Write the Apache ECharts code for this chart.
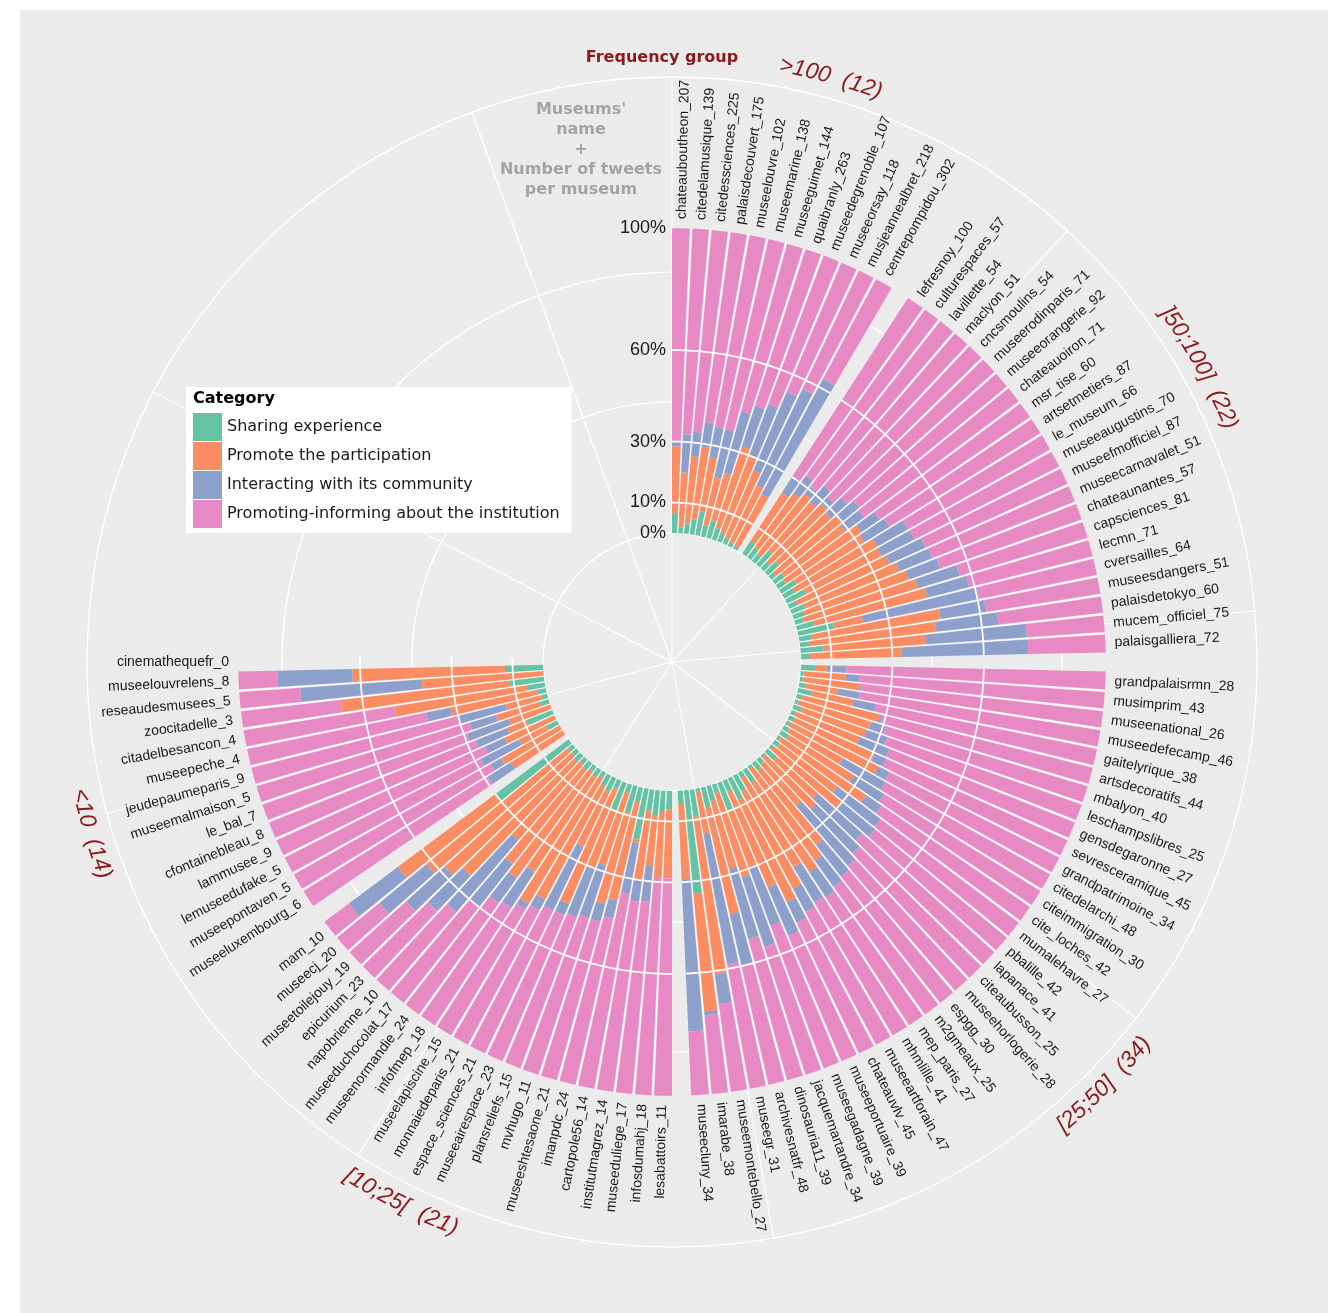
<!DOCTYPE html>
<html>
<head>
<meta charset="utf-8">
<script src="https://cdn.jsdelivr.net/npm/echarts/dist/echarts.min.js"></script>
<style>
html,body{margin:0;padding:0;background:#ffffff;}
#panel{position:absolute;left:20px;top:10px;width:1308px;height:1303px;background:#ebebeb;}
#chart{position:absolute;left:0;top:0;width:1334px;height:1313px;}
</style>
</head>
<body>
<div id="panel"></div>
<div id="chart"></div>
<script>
// ---------------- DATA ----------------
const groupNames = ['>100  (12)', ']50;100]  (22)', '[25;50]  (34)', '[10;25[  (21)', '<10  (14)'];
const groupSizes = [12, 22, 34, 21, 14];
const emptySlots = 35;

const museums = [
  'chateauboutheon_207','citedelamusique_139','citedessciences_225','palaisdecouvert_175','museelouvre_102','museemarine_138','museeguimet_144','quaibranly_263','museedegrenoble_107','museeorsay_118','musjeannealbret_218','centrepompidou_302',
  'lefresnoy_100','culturespaces_57','lavillette_54','maclyon_51','cncsmoulins_54','museerodinparis_71','museeorangerie_92','chateauoiron_71','msr_tise_60','artsetmetiers_87','le_museum_66','museeaugustins_70','museefmofficiel_87','museecarnavalet_51','chateaunantes_57','capsciences_81','lecmn_71','cversailles_64','museesdangers_51','palaisdetokyo_60','mucem_officiel_75','palaisgalliera_72',
  'grandpalaisrmn_28','musimprim_43','museenational_26','museedefecamp_46','gaitelyrique_38','artsdecoratifs_44','mbalyon_40','leschampslibres_25','gensdegaronne_27','sevresceramique_45','grandpatrimoine_34','citedelarchi_48','citeimmigration_30','cite_loches_42','mumalehavre_27','pbalille_42','lapanace_41','citeaubusson_25','museehorlogerie_28','espgg_30','m2gmeaux_25','mep_paris_27','mhmlille_41','museeartforain_47','chateauvlv_45','museeportuaire_39','museegadagne_39','jacquemartandre_34','dinosauria11_39','archivesnatfr_48','museegr_31','museemontebello_27','imarabe_38','museecluny_34',
  'lesabattoirs_11','infosdumahj_18','museeduliege_17','institutmagrez_14','cartopole56_14','imanpdc_24','museeshtesaone_21','mvhugo_11','plansreliefs_15','museeairespace_23','espace_sciences_21','monnaiedeparis_21','museelapiscine_15','infofmep_18','museenormandie_24','museeduchocolat_17','napobrienne_10','epicurium_23','museetoilejouy_19','museecj_20','mam_10',
  'museeluxembourg_6','museepontaven_5','lemuseedufake_5','lammusee_9','cfontainebleau_8','le_bal_7','museemalmaison_5','jeudepaumeparis_9','museepeche_4','citadelbesancon_4','zoocitadelle_3','reseaudesmusees_5','museelouvrelens_8','cinemathequefr_0'
];

const sharing = [
  6.5, 2, 3.5, 5, 8, 4, 6, 4, 3, 2, 1.5, 1,
  5, 4, 3, 6, 3, 5, 2, 4, 3, 6, 4, 7, 3, 5, 4, 3, 6, 12, 4, 3, 7.5, 3,
  4.6, 1, 1, 2, 4.7, 2, 1, 3, 1.5, 2, 1, 2, 3, 1, 2, 1, 4, 1, 2, 3, 1, 5, 2, 6, 8, 4, 10, 3, 5, 7, 1, 9, 34, 4,
  6, 7, 8.5, 7, 17, 5, 9, 3, 10, 3, 5, 4, 2, 3, 2, 3, 2, 3, 2, 2, 30,
  0, 0, 4, 0, 9, 0, 3, 2, 3, 6, 11.3, 0, 12.5, 0
];
const promote = [
  22, 18, 22, 24, 18, 16, 16, 28, 27, 24, 20.5, 19,
  19, 22, 25, 21, 26, 23, 28, 25, 30, 26, 31, 27.7, 33, 33, 36, 39, 38, 9.8, 43, 42, 33.5, 30,
  3.9, 14, 19, 10.8, 13.8, 26, 25, 22.4, 22.5, 28.7, 32.6, 20, 25, 34, 23.6, 29, 18, 23, 18, 31, 37, 35, 34, 36, 37, 34, 20, 29, 23, 35.6, 14, 52, 38.8, 25,
  22.6, 21.7, 16.5, 23, 1, 33, 31, 25, 20, 41, 20, 42, 48, 37, 43, 39, 33, 51, 56, 60, 40,
  20, 22, 10, 18, 7, 14.4, 15, 12, 29, 44, 55.7, 40, 50.1, 0
];
const interacting = [
  1.5, 12.5, 8, 8, 10, 16, 21, 14, 18, 28, 35, 43,
  6, 7, 3, 7, 3, 7, 7.3, 7.6, 7.3, 9.7, 11.5, 12.1, 12.9, 11.6, 11, 14.2, 14.2, 38.8, 15.2, 20.5, 33.4, 41.6,
  6.5, 4.5, 0.5, 7.2, 7.5, 1, 5, 7.1, 10.5, 4.1, 4.1, 16, 11.7, 6, 17.7, 14, 19.7, 20, 26, 13.3, 10.6, 9.9, 13.4, 8.6, 7.4, 17.3, 20, 24, 24, 17.3, 43.4, 10, 1.2, 50,
  0, 0, 11.7, 7, 17, 6, 6, 18, 17, 4, 23, 4, 2, 14, 10, 18, 31, 16, 17, 20, 20,
  9, 4, 14, 7, 11, 14.6, 9, 16, 8, 0, 0, 40, 24.6, 0
];
const promoting = [
  70, 67.5, 66.5, 63, 64, 64, 57, 54, 52, 46, 43, 37,
  70, 67, 69, 66, 68, 65, 62.7, 63.4, 59.7, 58.3, 53.5, 53.2, 51.1, 50.4, 49, 43.8, 41.8, 39.4, 37.8, 34.5, 25.6, 25.4,
  85, 80.5, 79.5, 80, 74, 71, 69, 67.5, 65.5, 65.2, 62.3, 62, 60.3, 59, 56.7, 56, 58.3, 56, 54, 52.7, 51.4, 50.1, 50.6, 49.4, 47.6, 44.7, 50, 44, 48, 40.1, 41.6, 29, 26, 21,
  71.4, 71.3, 63.3, 63, 65, 56, 54, 54, 53, 52, 52, 50, 48, 46, 45, 40, 34, 30, 25, 18, 10,
  71, 74, 72, 75, 73, 71, 73, 70, 60, 50, 33, 20, 12.8, 0
];

const categoryNames = ['Sharing experience', 'Promote the participation', 'Interacting with its community', 'Promoting-informing about the institution'];
const categoryColors = ['#66C2A5', '#FC8D62', '#8DA0CB', '#E78AC3'];

const radialTicks = [0, 10, 30, 60, 100];
const overlayArcValues = [10, 30, 60];
const backgroundCircles = [0, 43, 85.6, 149.6];
const spokeDegrees = [0, 42.5, 85, 127.5, 170, 212.5, 255, 297.5, 340];

// ---------------- LAYOUT HELPERS ----------------
const RADIUS_MAX = 149.6;
const LABEL_R = 103;
const GROUP_LABEL_R = 156.6;
const GROUP_FONT = 'italic 23px "Liberation Sans", Arial, sans-serif';

const slots = [];          // museum index or -1
const groupRanges = [];    // [firstSlot, lastSlot]
let mi = 0;
groupSizes.forEach((n, g) => {
  const first = slots.length;
  for (let k = 0; k < n; k++) slots.push(mi++);
  groupRanges.push([first, slots.length - 1]);
  if (g < groupSizes.length - 1) slots.push(-1);
});
for (let e = 0; e < emptySlots; e++) slots.push(-1);

const slotNames = slots.map((s, i) => s >= 0 ? museums[s] : ('_empty' + i));
const seriesArrays = [sharing, promote, interacting, promoting];
const total = museums.map((_, i) => sharing[i] + promote[i] + interacting[i] + promoting[i]);

const measureCtx = document.createElement('canvas').getContext('2d');
function textWidth(t, font) { measureCtx.font = font; return measureCtx.measureText(t).width; }

function polarOf(api, cs, v, idx) {
  const p = api.coord([v, idx]);
  const dx = p[0] - cs.cx, dy = cs.cy - p[1];
  return [Math.sqrt(dx * dx + dy * dy), Math.atan2(dy, dx)];
}
function slotPoint(api, cs, v, pos) {
  const a = polarOf(api, cs, v, 0);
  const b = polarOf(api, cs, v, 1);
  let step = b[1] - a[1];
  if (step > Math.PI) step -= 2 * Math.PI;
  if (step < -Math.PI) step += 2 * Math.PI;
  const ang = a[1] + step * (pos - 0.5);
  return [cs.cx + a[0] * Math.cos(ang), cs.cy - a[0] * Math.sin(ang), a[0], ang];
}
function txtStyle(text, align, valign, font, fill) {
  return { text: text, align: align, verticalAlign: valign, textAlign: align, textVerticalAlign: valign, font: font, fill: fill };
}

// ---------------- SERIES ----------------
const series = [];

// background grid circles
series.push({
  type: 'custom', coordinateSystem: 'polar', silent: true, z: 1,
  encode: { radius: 0, angle: 1 },
  data: backgroundCircles.map(v => [v, 0]),
  renderItem: (params, api) => {
    const cs = params.coordSys;
    const r = polarOf(api, cs, api.value(0), 0)[0];
    return { type: 'circle', shape: { cx: cs.cx, cy: cs.cy, r: r }, style: { fill: 'none', stroke: '#ffffff', lineWidth: 1.3 } };
  }
});
// background spokes
series.push({
  type: 'custom', coordinateSystem: 'polar', silent: true, z: 1,
  encode: { radius: 0, angle: 1 },
  data: spokeDegrees.map(d => [RADIUS_MAX, 0, d]),
  renderItem: (params, api) => {
    const cs = params.coordSys;
    const v = api.value(0);
    const a = polarOf(api, cs, v, 0), b = polarOf(api, cs, v, 1);
    const slotRad = Math.abs(a[1] - b[1]);
    const pos = (api.value(2) * Math.PI / 180) / slotRad;
    const p = slotPoint(api, cs, v, pos);
    return { type: 'line', shape: { x1: cs.cx, y1: cs.cy, x2: p[0], y2: p[1] }, style: { stroke: '#ffffff', lineWidth: 1.1 } };
  }
});

// stacked bars
seriesArrays.forEach((arr, c) => {
  series.push({
    type: 'bar', coordinateSystem: 'polar', name: categoryNames[c], stack: 'total',
    barCategoryGap: '0%', silent: true, z: 2,
    itemStyle: { color: categoryColors[c] },
    data: slots.map(s => s >= 0 ? arr[s] : '-')
  });
});

// white separators between adjacent bars
const sepData = [];
for (let i = 1; i < slots.length; i++) {
  if (slots[i - 1] >= 0 && slots[i] >= 0 && total[slots[i - 1]] > 0 && total[slots[i]] > 0) sepData.push([100, i]);
}
series.push({
  type: 'custom', coordinateSystem: 'polar', silent: true, z: 3,
  encode: { radius: 0, angle: 1 },
  data: sepData,
  renderItem: (params, api) => {
    const cs = params.coordSys;
    const i = api.value(1), w = 0.055;
    const p1 = slotPoint(api, cs, 0, i - w), p2 = slotPoint(api, cs, 0, i + w);
    const p3 = slotPoint(api, cs, api.value(0), i + w), p4 = slotPoint(api, cs, api.value(0), i - w);
    return { type: 'polygon', shape: { points: [p1.slice(0, 2), p2.slice(0, 2), p3.slice(0, 2), p4.slice(0, 2)] }, style: { fill: '#ffffff', stroke: '#ffffff', lineWidth: 0.4 } };
  }
});

// white arcs over each group
const arcData = [];
groupRanges.forEach(gr => overlayArcValues.forEach(v => arcData.push([v, gr[0], gr[1]])));
series.push({
  type: 'custom', coordinateSystem: 'polar', silent: true, z: 3,
  encode: { radius: 0, angle: 1 },
  data: arcData,
  renderItem: (params, api) => {
    const cs = params.coordSys;
    const v = api.value(0), s = api.value(1), e = api.value(2) + 1;
    const pts = [];
    const n = 80;
    for (let k = 0; k <= n; k++) pts.push(slotPoint(api, cs, v, s + (e - s) * k / n).slice(0, 2));
    return { type: 'polyline', shape: { points: pts }, style: { fill: 'none', stroke: '#ffffff', lineWidth: 1.8 } };
  }
});

// museum labels
const labelData = [];
slots.forEach((s, i) => { if (s >= 0) labelData.push([LABEL_R, i, s]); });
series.push({
  type: 'custom', coordinateSystem: 'polar', silent: true, z: 4,
  encode: { radius: 0, angle: 1 },
  data: labelData,
  renderItem: (params, api) => {
    const cs = params.coordSys;
    const p = slotPoint(api, cs, api.value(0), api.value(1) + 0.5);
    const dx = p[0] - cs.cx, dy = cs.cy - p[1];
    const th = Math.atan2(dy, dx);
    let rot = th, align = 'left';
    if (dx < -0.01) { rot = th > 0 ? th - Math.PI : th + Math.PI; align = 'right'; }
    return { type: 'text', x: p[0], y: p[1], rotation: rot,
      style: txtStyle(museums[api.value(2)], align, 'middle', '14px "Liberation Sans", Arial, sans-serif', '#1a1a1a') };
  }
});

// radial tick labels
series.push({
  type: 'custom', coordinateSystem: 'polar', silent: true, z: 4,
  encode: { radius: 0, angle: 1 },
  data: radialTicks.map(v => [v, 0]),
  renderItem: (params, api) => {
    const cs = params.coordSys;
    const r = polarOf(api, cs, api.value(0), 0)[0];
    return { type: 'text', x: cs.cx - 6, y: cs.cy - r,
      style: txtStyle(api.value(0) + '%', 'right', 'middle', '18px "Liberation Sans", Arial, sans-serif', '#1a1a1a') };
  }
});

// group labels, curved along the outer circle
series.push({
  type: 'custom', coordinateSystem: 'polar', silent: true, z: 4,
  encode: { radius: 0, angle: 1 },
  data: groupRanges.map((gr, g) => [GROUP_LABEL_R, 0, g, (gr[0] + gr[1] + 1) / 2]),
  renderItem: (params, api) => {
    const cs = params.coordSys;
    const p = slotPoint(api, cs, api.value(0), api.value(3));
    const R = p[2], th = p[3];
    const label = groupNames[api.value(2)];
    const W = textWidth(label, GROUP_FONT);
    const top = Math.sin(th) >= 0;
    const children = [];
    let acc = 0;
    for (const ch of label) {
      const w = textWidth(ch, GROUP_FONT);
      const mid = acc + w / 2 - W / 2;
      acc += w;
      if (ch === ' ') continue;
      const a = top ? th - mid / R : th + mid / R;
      const rot = top ? a - Math.PI / 2 : a + Math.PI / 2;
      children.push({ type: 'text', x: cs.cx + R * Math.cos(a), y: cs.cy - R * Math.sin(a), rotation: rot,
        style: txtStyle(ch, 'center', 'middle', GROUP_FONT, '#8b1a1a') });
    }
    return { type: 'group', children: children };
  }
});

const option = {
  backgroundColor: 'transparent',
  animation: false,
  polar: { center: [672, 662], radius: [129, 585] },
  radiusAxis: { type: 'value', min: 0, max: RADIUS_MAX, show: false, splitLine: { show: false }, axisLine: { show: false }, axisLabel: { show: false }, axisTick: { show: false } },
  angleAxis: { type: 'category', data: slotNames, startAngle: 90, clockwise: true, boundaryGap: true, show: false,
    axisLine: { show: false }, axisTick: { show: false }, axisLabel: { show: false }, splitLine: { show: false } },
  legend: {
    data: categoryNames, orient: 'vertical', left: 186, top: 387, padding: [26, 12, 5, 7],
    backgroundColor: '#ffffff', itemWidth: 29, itemHeight: 28, itemGap: 1, icon: 'rect', selectedMode: false,
    textStyle: { fontFamily: 'DejaVu Sans', fontSize: 16, color: '#1a1a1a' }
  },
  graphic: [
    { type: 'text', x: 662, y: 58, z: 100, silent: true,
      style: txtStyle('Frequency group', 'center', 'middle', 'bold 16px "DejaVu Sans", sans-serif', '#8b1a1a') },
    { type: 'text', x: 581, y: 100, z: 100, silent: true,
      style: Object.assign(txtStyle("Museums'\nname\n+\nNumber of tweets\nper museum", 'center', 'top', 'bold 16px "DejaVu Sans", sans-serif', '#a3a3a3'), { lineHeight: 20 }) },
    { type: 'text', x: 193, y: 399, z: 100, silent: true,
      style: txtStyle('Category', 'left', 'middle', 'bold 16px "DejaVu Sans", sans-serif', '#000000') }
  ],
  series: series
};

const chart = echarts.init(document.getElementById('chart'));
chart.setOption(option);
</script>
</body>
</html>
